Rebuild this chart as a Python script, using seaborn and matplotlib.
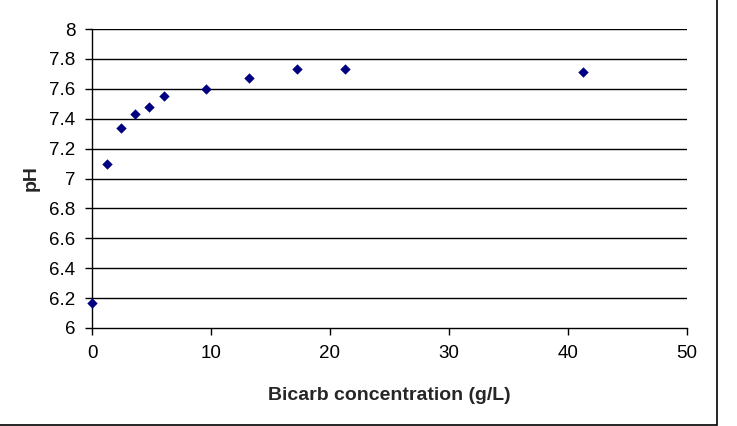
import numpy as np
import pandas as pd
import seaborn as sns
import matplotlib.pyplot as plt
from matplotlib.patches import Rectangle

# Bicarb concentration (g/L) and measured pH
bicarb = [0.0, 1.24, 2.41, 3.61, 4.76, 6.03, 9.55, 13.2, 17.2, 21.3, 41.3]
ph = [6.17, 7.10, 7.34, 7.43, 7.48, 7.55, 7.60, 7.67, 7.73, 7.73, 7.71]

x_ticks = [0, 10, 20, 30, 40, 50]
y_ticks = [6, 6.2, 6.4, 6.6, 6.8, 7, 7.2, 7.4, 7.6, 7.8, 8]
y_tick_labels = ['6', '6.2', '6.4', '6.6', '6.8', '7', '7.2', '7.4', '7.6', '7.8', '8']

df = pd.DataFrame({'bicarb': bicarb, 'ph': ph})

sns.set_style("white")
plt.rcParams['font.family'] = ['Liberation Sans', 'DejaVu Sans']

fig = plt.figure(figsize=(7.37, 4.26), dpi=100)
ax = fig.add_axes([92 / 737, 1 - 328 / 426, (687 - 92) / 737, (328 - 29) / 426])

sns.scatterplot(data=df, x='bicarb', y='ph', ax=ax, marker='D', s=28,
                color='#000080', edgecolor='#000080', linewidth=0, zorder=5,
                clip_on=False)

ax.set_xlim(0, 50)
ax.set_ylim(6, 8)
ax.set_xticks(x_ticks)
ax.set_yticks(y_ticks)
ax.set_yticklabels(y_tick_labels)

# horizontal gridlines only
for y in y_ticks[1:]:
    ax.axhline(y, color='black', linewidth=1, zorder=1)

for side in ['top', 'right']:
    ax.spines[side].set_visible(False)
for side in ['left', 'bottom']:
    ax.spines[side].set_color('black')
    ax.spines[side].set_linewidth(1)

ax.tick_params(axis='both', which='major', direction='out', length=5, width=1,
               color='black', labelsize=13.5, labelcolor='black', left=True, bottom=True)
ax.tick_params(axis='x', pad=7.5)
ax.tick_params(axis='y', pad=7)

ax.set_xlabel('Bicarb concentration (g/L)', fontsize=14, fontweight='bold', labelpad=17.5)
ax.set_ylabel('pH', fontsize=14, fontweight='bold', labelpad=7)

# chart area border (right and bottom edges visible)
fig.patches.append(Rectangle((-0.01, 1.5 / 426), 717 / 737 + 0.01, 1.02,
                             transform=fig.transFigure, fill=False,
                             edgecolor='black', linewidth=1.2))

fig.savefig('out.png', dpi=100)
